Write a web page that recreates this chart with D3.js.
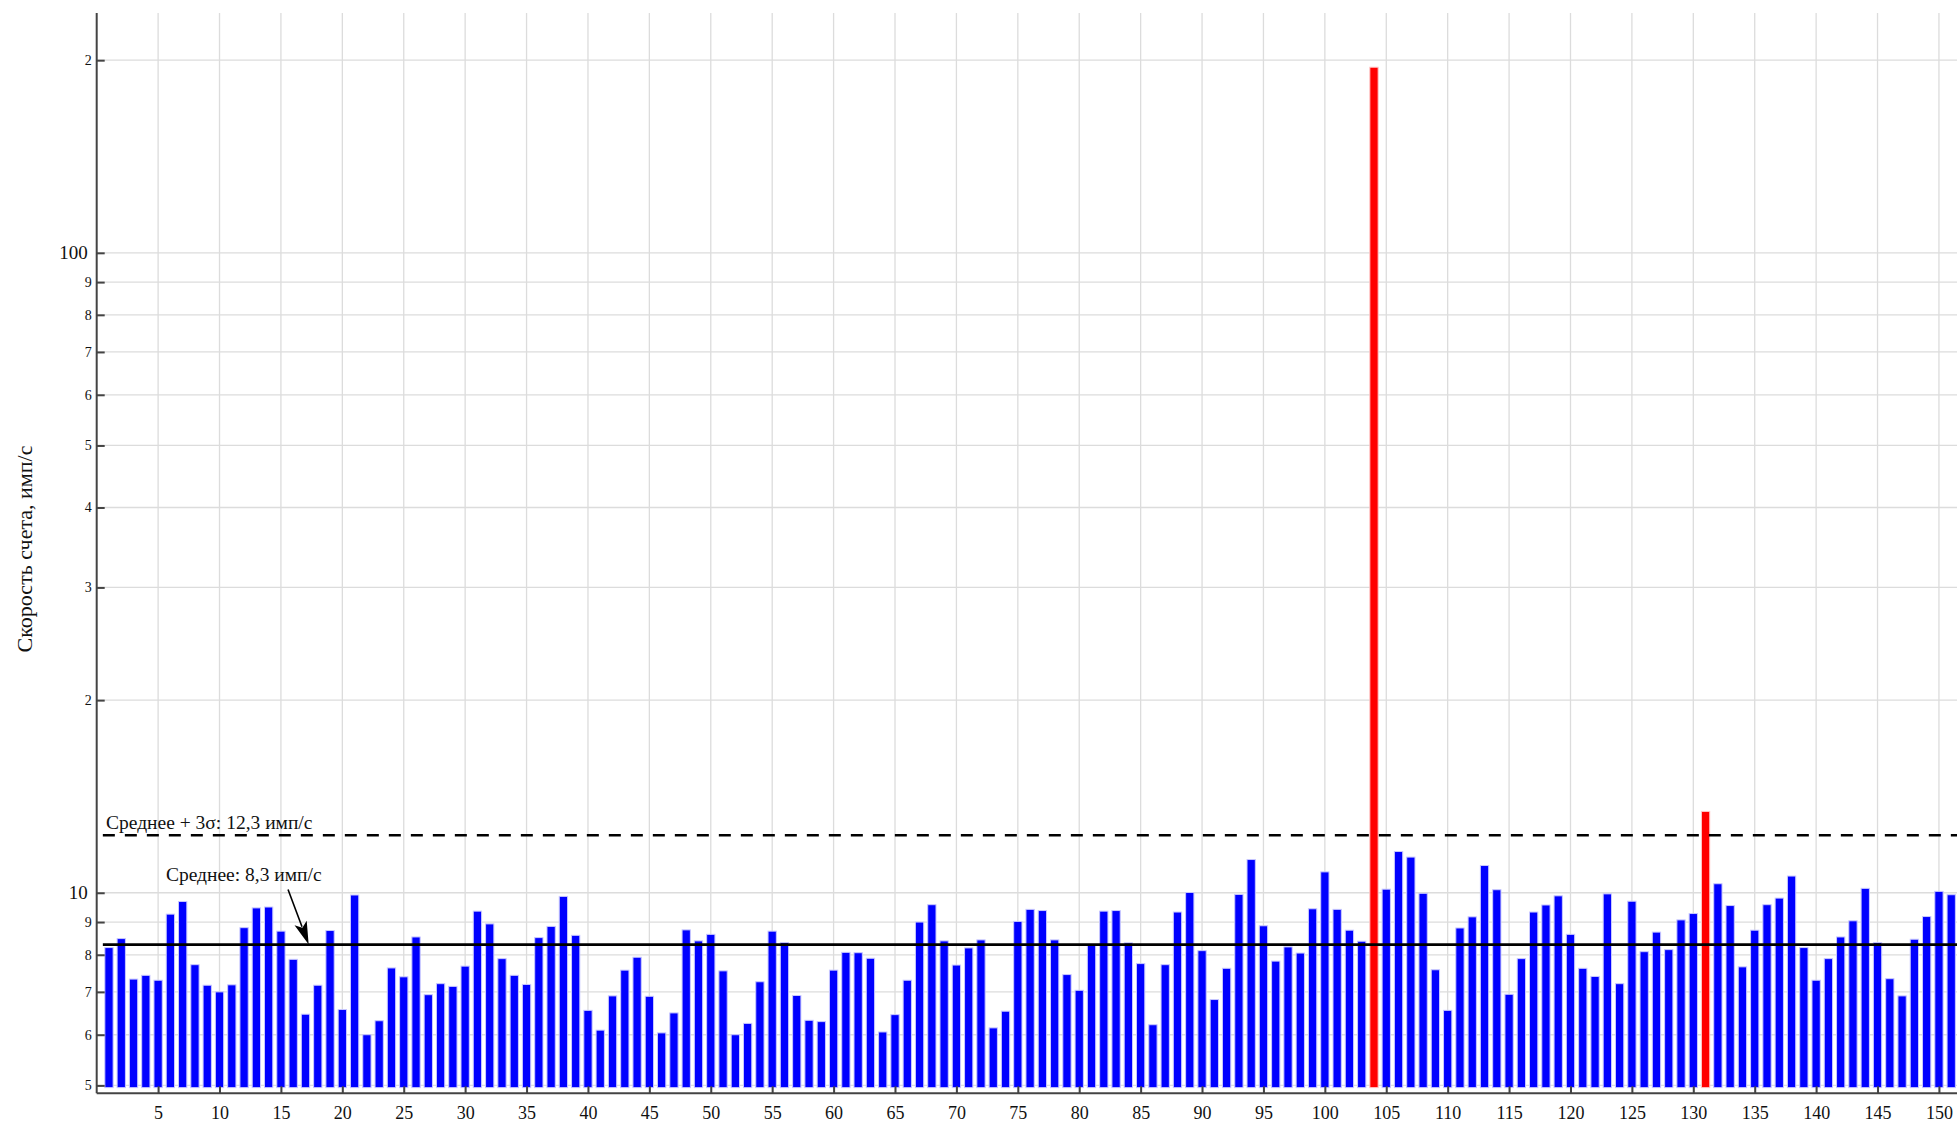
<!DOCTYPE html>
<html>
<head>
<meta charset="utf-8">
<script src="https://cdn.jsdelivr.net/npm/d3@7"></script>
<style>
  html, body { margin: 0; padding: 0; background: #fff; }
  svg { display: block; }
  text { font-family: "Liberation Serif", "Times New Roman", serif; fill: #111; }
</style>
</head>
<body>
<svg id="chart" width="1957" height="1125"></svg>
<script>
// Count rate per measurement channel, imp/s
const rates = [
  8.21, 8.48, 7.33, 7.43, 7.30, 9.26, 9.69, 7.72, 7.17, 7.00,
  7.18, 8.82, 9.47, 9.50, 8.71, 7.87, 6.46, 7.17, 8.73, 6.57,
  9.92, 6.00, 6.31, 7.63, 7.39, 8.53, 6.93, 7.21, 7.14, 7.68,
  9.36, 8.94, 7.89, 7.43, 7.19, 8.51, 8.86, 9.87, 8.58, 6.55,
  6.10, 6.90, 7.57, 7.93, 6.89, 6.04, 6.49, 8.75, 8.41, 8.61,
  7.55, 6.00, 6.25, 7.26, 8.71, 8.36, 6.91, 6.32, 6.29, 7.57,
  8.07, 8.06, 7.90, 6.06, 6.45, 7.30, 9.00, 9.58, 8.41, 7.71,
  8.20, 8.44, 6.15, 6.53, 9.02, 9.42, 9.38, 8.44, 7.45, 7.04,
  8.30, 9.36, 9.38, 8.35, 7.75, 6.22, 7.72, 9.33, 10.01, 8.12,
  6.81, 7.62, 9.94, 11.27, 8.88, 7.82, 8.23, 8.05, 9.44, 10.78,
  9.42, 8.74, 8.40, 195, 10.13, 11.60, 11.37, 9.98, 7.58, 6.55,
  8.81, 9.17, 11.03, 10.11, 6.94, 7.89, 9.33, 9.57, 9.89, 8.61,
  7.62, 7.40, 9.96, 7.21, 9.70, 8.09, 8.68, 8.15, 9.07, 9.28,
  13.4, 10.33, 9.55, 7.66, 8.74, 9.58, 9.81, 10.62, 8.21, 7.30,
  7.89, 8.53, 9.04, 10.16, 8.36, 7.34, 6.90, 8.46, 9.18, 10.05,
  9.93
];
const channels = rates.map((_, i) => i + 1);

const meanRate = 8.3;
const threshold = 12.3;
const meanLabel = "Среднее: 8,3 имп/с";
const thresholdLabel = "Среднее + 3σ: 12,3 имп/с";
const yTitle = "Скорость счета, имп/с";

const xTickValues = [5,10,15,20,25,30,35,40,45,50,55,60,65,70,75,80,85,90,95,100,105,110,115,120,125,130,135,140,145,150];
const yTickValues = [5,6,7,8,9,10,20,30,40,50,60,70,80,90,100,200];
const yTickLabels = ["5","6","7","8","9","10","2","3","4","5","6","7","8","9","100","2"];
const yMajorTicks = [10, 100];

const svg = d3.select("#chart");
const W = 1957, H = 1125;
const plotLeft = 96.7, plotTop = 13, plotBottom = 1093.3, plotRight = W;
const serif = "'Liberation Serif', 'Times New Roman', serif";

const x = d3.scaleLinear().domain([0, 151.47]).range([plotLeft, plotRight]);
const y = d3.scaleLog().domain([4.86, 237]).range([plotBottom, plotTop]);
const barBase = 4.96;
const barW = 9.3;

// grid
const grid = svg.append("g").attr("stroke", "#dcdcdc").attr("stroke-width", 1.3);
grid.selectAll("line.v").data(xTickValues).join("line").attr("class", "v")
  .attr("x1", d => x(d)).attr("x2", d => x(d))
  .attr("y1", plotTop).attr("y2", plotBottom);
grid.selectAll("line.h").data(yTickValues).join("line").attr("class", "h")
  .attr("x1", plotLeft).attr("x2", plotRight)
  .attr("y1", d => y(d)).attr("y2", d => y(d));

// bars: channels above the 3σ threshold are highlighted
svg.append("g").selectAll("rect").data(rates).join("rect")
  .attr("x", (d, i) => x(channels[i]) - barW / 2 + 0.5)
  .attr("width", barW - 1)
  .attr("y", d => y(d))
  .attr("height", d => y(barBase) - y(d))
  .attr("fill", d => d > threshold ? "#ff0000" : "#0000ff")
  .attr("stroke", d => d > threshold ? "#ffc8c8" : "#c8c8ff")
  .attr("stroke-width", 1);

// mean and threshold lines
svg.append("line")
  .attr("x1", x(0.5)).attr("x2", plotRight)
  .attr("y1", y(meanRate)).attr("y2", y(meanRate))
  .attr("stroke", "#000").attr("stroke-width", 2.7);
svg.append("line")
  .attr("x1", x(0.5)).attr("x2", plotRight)
  .attr("y1", y(threshold)).attr("y2", y(threshold))
  .attr("stroke", "#000").attr("stroke-width", 2.5)
  .attr("stroke-dasharray", "12,10");

// annotations
svg.append("text")
  .attr("x", x(0.76)).attr("y", y(12.6))
  .attr("font-size", 19.5)
  .style("font-family", serif)
  .text(thresholdLabel);
svg.append("text")
  .attr("x", x(5.64)).attr("y", y(10.44))
  .attr("font-size", 19.5)
  .style("font-family", serif)
  .text(meanLabel);

// arrow from mean label to the mean line
const ax0 = x(15.58), ay0 = y(10.12), ax1 = x(17.26), ay1 = y(meanRate);
const ang = Math.atan2(ay1 - ay0, ax1 - ax0);
const headLen = 23, headHalf = 6.5;
const bx = ax1 - headLen * Math.cos(ang), by = ay1 - headLen * Math.sin(ang);
const nx = -Math.sin(ang), ny = Math.cos(ang);
svg.append("line")
  .attr("x1", ax0).attr("y1", ay0).attr("x2", bx + 4 * Math.cos(ang)).attr("y2", by + 4 * Math.sin(ang))
  .attr("stroke", "#000").attr("stroke-width", 1.6);
const notch = 5;
svg.append("path")
  .attr("d", `M${ax1},${ay1} L${bx + nx * headHalf},${by + ny * headHalf} L${bx + notch * Math.cos(ang)},${by + notch * Math.sin(ang)} L${bx - nx * headHalf},${by - ny * headHalf} Z`)
  .attr("fill", "#000");

// y axis (log), ticks pointing into the plot
const yAxis = d3.axisLeft(y)
  .tickValues(yTickValues)
  .tickFormat((d, i) => yTickLabels[i])
  .tickSizeInner(-8).tickSizeOuter(0).tickPadding(5);
const gy = svg.append("g").attr("transform", `translate(${plotLeft},0)`).call(yAxis)
  .attr("font-family", null);
gy.select(".domain").attr("stroke", "#444").attr("stroke-width", 2)
  .attr("d", `M0,${plotTop}V${plotBottom}`);
gy.selectAll(".tick line").attr("stroke", "#444").attr("stroke-width", 2);
gy.selectAll(".tick text")
  .attr("fill", "#111")
  .style("font-family", serif)
  .attr("font-size", d => yMajorTicks.includes(d) ? 19 : 14)
  .attr("x", d => yMajorTicks.includes(d) ? -9 : -5);

// x axis
const xAxis = d3.axisBottom(x)
  .tickValues(xTickValues)
  .tickFormat(d3.format("d"))
  .tickSizeInner(-7).tickSizeOuter(0).tickPadding(0);
const gx = svg.append("g").attr("transform", `translate(0,${plotBottom})`).call(xAxis)
  .attr("font-family", null);
gx.select(".domain").attr("stroke", "#444").attr("stroke-width", 2)
  .attr("d", `M${plotLeft},0H${plotRight}`);
gx.selectAll(".tick line").attr("stroke", "#444").attr("stroke-width", 2);
gx.selectAll(".tick text")
  .attr("fill", "#111")
  .style("font-family", serif)
  .attr("font-size", 18)
  .attr("dy", null)
  .attr("y", 26);

// y title
svg.append("text")
  .attr("transform", `translate(32,549) rotate(-90)`)
  .attr("text-anchor", "middle")
  .attr("font-size", 22)
  .style("font-family", serif)
  .text(yTitle);
</script>
</body>
</html>
